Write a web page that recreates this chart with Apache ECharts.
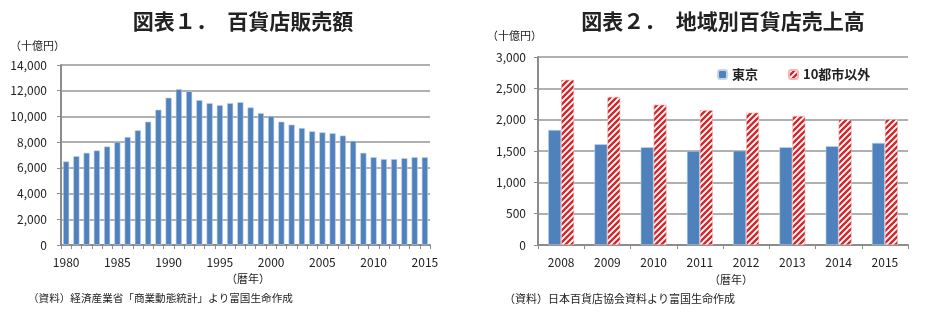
<!DOCTYPE html>
<html><head><meta charset="utf-8">
<script src="https://cdn.jsdelivr.net/npm/echarts@6/dist/echarts.min.js"></script>
<style>html,body{margin:0;padding:0;background:#fff}#c{width:932px;height:322px}</style>
</head><body><div id="c"></div>
<script>
// Chart 1: department store sales (billion yen)
const years1 = ['1980','1981','1982','1983','1984','1985','1986','1987','1988','1989','1990','1991','1992','1993','1994','1995','1996','1997','1998','1999','2000','2001','2002','2003','2004','2005','2006','2007','2008','2009','2010','2011','2012','2013','2014','2015'];
const sales1 = [6500,6910,7170,7350,7660,8020,8400,8920,9590,10520,11450,12120,11960,11270,11035,10880,11035,11110,10700,10260,10030,9590,9360,9100,8840,8760,8690,8510,8100,7170,6830,6680,6680,6750,6830,6830];
// Chart 2: sales by region (billion yen)
const years2 = ['2008','2009','2010','2011','2012','2013','2014','2015'];
const tokyo = [1836,1608,1560,1501,1506,1560,1577,1629];
const others = [2636,2364,2240,2150,2113,2061,2008,2008];
const seriesNames = ['東京','10都市以外'];

const FONT = '"Noto Sans CJK JP","Noto Sans",sans-serif';
const blue = '#4f81bd';

function hatch(){
  const s = 6, c = document.createElement('canvas');
  c.width = s; c.height = s;
  const g = c.getContext('2d');
  g.fillStyle = '#ffffff'; g.fillRect(0,0,s,s);
  g.strokeStyle = '#d7262b'; g.lineWidth = 2.4;
  g.beginPath();
  g.moveTo(-1, s+1); g.lineTo(s+1, -1);
  g.moveTo(-1, 1); g.lineTo(1, -1);
  g.moveTo(s-1, s+1); g.lineTo(s+1, s-1);
  g.stroke();
  return {image: c, repeat: 'repeat'};
}
const redPattern = hatch();

const fmt = v => v.toLocaleString('en-US');
const axisLabelStyle = {color:'#222', fontSize:12, fontFamily:FONT};

const chart = echarts.init(document.getElementById('c'), null, {renderer:'canvas'});
chart.setOption({
  animation:false,
  backgroundColor:'#fff',
  title:[
    {text:'図表１．　百貨店販売額', left:238, top:6, textAlign:'center',
     textStyle:{fontFamily:FONT, fontSize:21, fontWeight:'bold', color:'#222'}},
    {text:'図表２．　地域別百貨店売上高', left:718, top:6, textAlign:'center',
     textStyle:{fontFamily:FONT, fontSize:21, fontWeight:'bold', color:'#222'}}
  ],
  graphic:[
    {type:'text', left:10, top:40, style:{text:'（十億円）', font:'11px '+FONT, fill:'#222'}},
    {type:'text', left:487, top:30, style:{text:'（十億円）', font:'11px '+FONT, fill:'#222'}},
    {type:'text', left:226, top:273, style:{text:'（暦年）', font:'11px '+FONT, fill:'#222'}},
    {type:'text', left:709, top:274, style:{text:'（暦年）', font:'11px '+FONT, fill:'#222'}},
    {type:'text', left:28, top:293, style:{text:'（資料）経済産業省「商業動態統計」より富国生命作成', font:'10.6px '+FONT, fill:'#222'}},
    {type:'text', left:504, top:293, style:{text:'（資料）日本百貨店協会資料より富国生命作成', font:'11px '+FONT, fill:'#222'}}
  ],
  legend:{
    data:seriesNames, left:712, top:63, itemWidth:9, itemHeight:9, itemGap:30,
    textStyle:{fontFamily:FONT, fontSize:13, color:'#222', fontWeight:'bold'}
  },
  grid:[
    {left:61, top:65, width:369, height:180},
    {left:538, top:57, width:370, height:188}
  ],
  xAxis:[
    {type:'category', gridIndex:0, data:years1,
     axisLine:{lineStyle:{color:'#8c8c8c', width:2}},
     axisTick:{show:true, interval:0, length:4, lineStyle:{color:'#8c8c8c'}},
     axisLabel:Object.assign({interval:4, margin:11}, axisLabelStyle)},
    {type:'category', gridIndex:1, data:years2,
     axisLine:{lineStyle:{color:'#8c8c8c', width:2}},
     axisTick:{show:true, interval:0, length:4, lineStyle:{color:'#8c8c8c'}},
     axisLabel:Object.assign({interval:0, margin:11}, axisLabelStyle)}
  ],
  yAxis:[
    {type:'value', gridIndex:0, min:0, max:14000, interval:2000,
     axisLine:{show:true, lineStyle:{color:'#8c8c8c', width:2}},
     axisTick:{show:true, length:4, lineStyle:{color:'#8c8c8c'}},
     splitLine:{lineStyle:{color:'#b0b0b0', width:2}},
     axisLabel:Object.assign({formatter:fmt, margin:14}, axisLabelStyle)},
    {type:'value', gridIndex:1, min:0, max:3000, interval:500,
     axisLine:{show:true, lineStyle:{color:'#8c8c8c', width:2}},
     axisTick:{show:true, length:4, lineStyle:{color:'#8c8c8c'}},
     splitLine:{lineStyle:{color:'#b0b0b0', width:2}},
     axisLabel:Object.assign({formatter:fmt, margin:12}, axisLabelStyle)}
  ],
  series:[
    {type:'bar', name:'販売額', xAxisIndex:0, yAxisIndex:0, data:sales1,
     barCategoryGap:'40%', itemStyle:{color:blue, borderColor:'#c5d4ea', borderWidth:0.6}},
    {type:'bar', name:seriesNames[0], xAxisIndex:1, yAxisIndex:1, data:tokyo,
     barGap:'0%', barCategoryGap:'44%', itemStyle:{color:blue, borderColor:'#c5d4ea', borderWidth:0.6}},
    {type:'bar', name:seriesNames[1], xAxisIndex:1, yAxisIndex:1, data:others,
     barGap:'0%', barCategoryGap:'44%', itemStyle:{color:redPattern, borderColor:'#f2b8b8', borderWidth:0.6}}
  ]
});
</script></body></html>
